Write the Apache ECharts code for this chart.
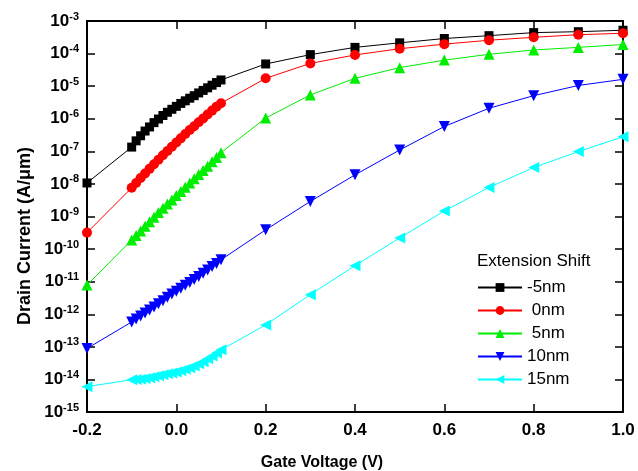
<!DOCTYPE html>
<html>
<head>
<meta charset="utf-8">
<script src="https://cdn.jsdelivr.net/npm/echarts@6/dist/echarts.min.js"></script>
<style>
  html, body { margin: 0; padding: 0; background: #fff; }
  #main { width: 638px; height: 471px; }
</style>
</head>
<body>
<div id="main"></div>
<script>
// gate voltage points (V): -0.2, dense sweep -0.1..0.1, then 0.2..1.0
const gateV = [-0.2,
  -0.10, -0.09, -0.08, -0.07, -0.06, -0.05, -0.04, -0.03, -0.02, -0.01,
  0.00, 0.01, 0.02, 0.03, 0.04, 0.05, 0.06, 0.07, 0.08, 0.09, 0.10,
  0.2, 0.3, 0.4, 0.5, 0.6, 0.7, 0.8, 0.9, 1.0]

// drain current (A/um) per extension shift
const shiftM5 = [1.07e-8,
  1.35e-7, 2.1e-7, 3.0e-7, 4.2e-7, 5.6e-7, 7.6e-7, 9.8e-7, 1.26e-6, 1.58e-6, 1.95e-6,
  2.4e-6, 2.95e-6, 3.55e-6, 4.27e-6, 5.1e-6, 6.2e-6, 7.4e-6, 8.9e-6, 1.07e-5, 1.29e-5, 1.55e-5,
  4.8e-5, 9.3e-5, 1.55e-4, 2.14e-4, 2.9e-4, 3.55e-4, 4.4e-4, 4.7e-4, 5.2e-4]
const shift0 = [3.2e-10,
  7.6e-9, 1.07e-8, 1.51e-8, 2.1e-8, 2.9e-8, 4.0e-8, 5.5e-8, 7.6e-8, 1.02e-7, 1.38e-7,
  1.86e-7, 2.5e-7, 3.4e-7, 4.5e-7, 5.9e-7, 7.8e-7, 1.02e-6, 1.35e-6, 1.78e-6, 2.35e-6, 3.0e-6,
  1.74e-5, 5.0e-5, 9.1e-5, 1.41e-4, 1.95e-4, 2.57e-4, 3.16e-4, 3.8e-4, 4.2e-4]
const shift5 = [7.9e-12,
  1.9e-10, 2.6e-10, 3.6e-10, 5.0e-10, 6.9e-10, 9.5e-10, 1.32e-9, 1.78e-9, 2.4e-9, 3.2e-9,
  4.4e-9, 5.9e-9, 7.9e-9, 1.07e-8, 1.45e-8, 1.95e-8, 2.6e-8, 3.5e-8, 4.8e-8, 6.5e-8, 9.1e-8,
  1.05e-6, 5.4e-6, 1.74e-5, 3.7e-5, 6.3e-5, 9.5e-5, 1.29e-4, 1.55e-4, 1.9e-4]
const shift10 = [8.9e-14,
  5.8e-13, 7.2e-13, 8.9e-13, 1.1e-12, 1.35e-12, 1.66e-12, 2.1e-12, 2.6e-12, 3.3e-12, 4.2e-12,
  5.1e-12, 6.3e-12, 7.8e-12, 9.5e-12, 1.17e-11, 1.45e-11, 1.82e-11, 2.3e-11, 2.9e-11, 3.6e-11, 4.7e-11,
  3.9e-10, 2.9e-9, 1.9e-8, 1.1e-7, 5.8e-7, 2.1e-6, 5.1e-6, 1.05e-5, 1.62e-5]
const shift15 = [6.0e-15,
  9.8e-15, 1.0e-14, 1.02e-14, 1.07e-14, 1.12e-14, 1.2e-14, 1.29e-14, 1.38e-14, 1.48e-14, 1.58e-14,
  1.7e-14, 1.86e-14, 2.04e-14, 2.3e-14, 2.6e-14, 3.0e-14, 3.5e-14, 4.3e-14, 5.2e-14, 6.5e-14, 8.1e-14,
  4.7e-13, 4.0e-12, 3.1e-11, 2.2e-10, 1.48e-9, 7.8e-9, 3.2e-8, 9.8e-8, 2.8e-7]

const seriesNames = ['-5nm', '0nm', '5nm', '10nm', '15nm']
const seriesColors = ['#000000', '#ff0000', '#00ee00', '#0000ff', '#00ffff']

const font = 'Liberation Sans, Arial, sans-serif'

function pairs(arr) {
  return gateV.map((v, i) => [v, arr[i]])
}

const myChart = echarts.init(document.getElementById('main'))

//每条曲线的符号设定
const symbols = [
  { symbol: 'rect', size: 9, rotate: 0 },
  { symbol: 'circle', size: 10, rotate: 0 },
  { symbol: 'triangle', size: 11, rotate: 0 },
  { symbol: 'triangle', size: 11, rotate: 180 },
  { symbol: 'triangle', size: 11, rotate: 90 }
]
const allData = [shiftM5, shift0, shift5, shift10, shift15]

const tickStyle = { show: true, inside: true, length: 8, lineStyle: { color: '#000', width: 1.5 } }
const lineStyle = { onZero: false, lineStyle: { color: '#000', width: 2 } }

const option = {
  animation: false,
  backgroundColor: '#fff',
  grid: { left: 87, right: 15, top: 21, bottom: 59 },
  xAxis: [{
    type: 'value',
    min: -0.2,
    max: 1.0,
    interval: 0.2,
    axisLine: lineStyle,
    axisTick: tickStyle,
    splitLine: { show: false },
    axisLabel: {
      color: '#000',
      fontFamily: font,
      fontWeight: 'bold',
      fontSize: 17,
      margin: 10,
      formatter: v => v.toFixed(1)
    }
  }, {
    type: 'value',
    position: 'top',
    min: -0.2,
    max: 1.0,
    interval: 0.2,
    axisLine: lineStyle,
    axisTick: tickStyle,
    axisLabel: { show: false },
    splitLine: { show: false }
  }],
  yAxis: [{
    type: 'log',
    logBase: 10,
    min: 1e-15,
    max: 1e-3,
    interval: 1,
    axisLine: lineStyle,
    axisTick: tickStyle,
    splitLine: { show: false },
    axisLabel: {
      color: '#000',
      fontFamily: font,
      margin: 8,
      formatter: function (v) {
        const e = Math.round(Math.log10(v))
        return '{b|10}{s|' + e + '}'
      },
      rich: {
        b: { fontFamily: font, fontWeight: 'bold', fontSize: 17, color: '#000', lineHeight: 20 },
        s: { fontFamily: font, fontWeight: 'bold', fontSize: 11, color: '#000', verticalAlign: 'top', lineHeight: 20, padding: [0, 0, 8, 0] }
      }
    }
  }, {
    type: 'log',
    logBase: 10,
    position: 'right',
    min: 1e-15,
    max: 1e-3,
    interval: 1,
    axisLine: lineStyle,
    axisTick: tickStyle,
    axisLabel: { show: false },
    splitLine: { show: false }
  }],
  legend: {
    orient: 'vertical',
    left: 472,
    top: 274,
    itemWidth: 44,
    itemHeight: 11,
    itemGap: 6,
    textStyle: { fontFamily: font, fontSize: 17, color: '#000' },
    formatter: name => (name === '0nm' || name === '5nm') ? ' ' + name : name,
    data: seriesNames
  },
  graphic: [{
    type: 'text',
    left: 477,
    top: 253,
    style: { text: 'Extension Shift', font: '17px ' + font, fill: '#000' }
  }, {
    type: 'text',
    x: 25,
    y: 236,
    rotation: Math.PI / 2,
    style: {
      text: 'Drain Current (A/\u03bcm)',
      font: 'bold 18px ' + font,
      fill: '#000',
      align: 'center',
      verticalAlign: 'middle'
    }
  }, {
    type: 'text',
    x: 322,
    y: 463,
    style: {
      text: 'Gate Voltage (V)',
      font: 'bold 16px ' + font,
      fill: '#000',
      align: 'center',
      verticalAlign: 'middle'
    }
  }],
  series: seriesNames.map((name, i) => ({
    name,
    type: 'line',
    xAxisIndex: 0,
    yAxisIndex: 0,
    data: pairs(allData[i]),
    symbol: symbols[i].symbol,
    symbolSize: symbols[i].size,
    symbolRotate: symbols[i].rotate,
    showAllSymbol: true,
    color: seriesColors[i],
    lineStyle: { width: 1, color: seriesColors[i] },
    itemStyle: { color: seriesColors[i] }
  }))
}

myChart.setOption(option)
</script>
</body>
</html>
